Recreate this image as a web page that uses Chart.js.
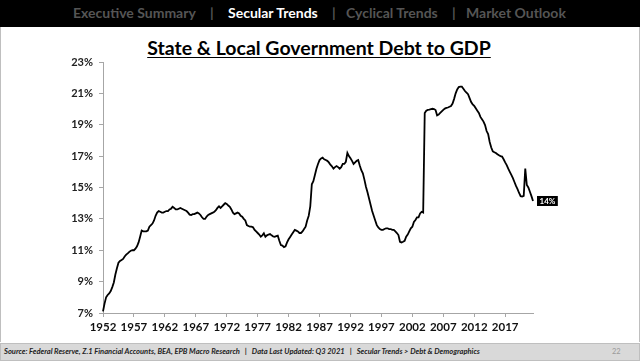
<!DOCTYPE html>
<html>
<head>
<meta charset="utf-8">
<script src="https://cdn.jsdelivr.net/npm/chart.js@4"></script>
<style>
  html, body { margin: 0; padding: 0; width: 640px; height: 361px; overflow: hidden; background: #fff; font-family: Lato, "Open Sans", sans-serif; }
  #header { position: absolute; left: 0; top: 0; width: 640px; height: 27px; background: #000; }
  #header span { position: absolute; top: 4px; font-weight: bold; font-size: 14px; line-height: 18px; color: #555; white-space: nowrap; }
  #header span.active { color: #fff; }
  #frame { position: absolute; left: 0; top: 27px; width: 638px; height: 315px; border-left: 1px solid #bfbfbf; border-right: 1px solid #bfbfbf; }
  #title { position: absolute; left: 0; top: 36px; width: 638px; text-align: center; font-weight: bold; font-size: 19.5px; line-height: 23px; text-decoration: underline; text-underline-offset: 2px; color: #000; }
  #footer { position: absolute; left: 0; top: 343px; width: 638px; height: 16px; background: #d9d9d9; border: 1px solid #bfbfbf; }
  #footer .src { position: absolute; left: 3px; top: 3px; font-size: 7.55px; line-height: 10px; font-weight: bold; font-style: italic; color: #222; white-space: pre; }
  #footer .pg { position: absolute; left: 611px; top: 3px; font-size: 7.5px; line-height: 10px; color: #999; }
  canvas { position: absolute; left: 0; top: 0; }
</style>
</head>
<body>
<div id="header">
  <span style="left:73px">Executive Summary</span>
  <span style="left:210px">|</span>
  <span class="active" style="left:228px">Secular Trends</span>
  <span style="left:332px">|</span>
  <span style="left:346px">Cyclical Trends</span>
  <span style="left:452px">|</span>
  <span style="left:466px">Market Outlook</span>
</div>
<div id="frame"></div>
<div id="title">State &amp; Local Government Debt to GDP</div>
<div id="footer">
  <div class="src">Source: Federal Reserve, Z.1 Financial Accounts, BEA, EPB Macro Research   |   Data Last Updated: Q3 2021   |   Secular Trends &gt; Debt &amp; Demographics</div>
  <div class="pg">22</div>
</div>
<canvas id="c" width="640" height="361"></canvas>
<script>
// ---- data ----
const years = [1952,1953,1954,1955,1956,1957,1958,1959,1960,1961,1962,1963,1964,1965,1966,1967,1968,1969,
  1970,1971,1972,1973,1974,1975,1976,1977,1978,1979,1980,1981,1982,1983,1984,1985,1986,1987,1988,1989,
  1990,1991,1992,1993,1994,1995,1996,1997,1998,1999,2000,2001,2002,2003,2004,2005,2006,2007,2008,2009,
  2010,2011,2012,2013,2014,2015,2016,2017,2018,2019,2020,2021];
const quarters = ['Q1','Q2','Q3','Q4'];
const lastQuarter = 'Q3 2021';
const tickYears = [1952,1957,1962,1967,1972,1977,1982,1987,1992,1997,2002,2007,2012,2017];
const yTicks = [7,9,11,13,15,17,19,21,23];
// debt to GDP (%), quarterly 1952Q1 .. 2021Q3
const debtToGdp = [
  7.1, 7.6, 8.0, 8.15,        // 1952
  8.25, 8.4, 8.65, 8.95,      // 1953
  9.45, 9.85, 10.2, 10.32,    // 1954
  10.38, 10.45, 10.6, 10.72,  // 1955
  10.8, 10.9, 10.97, 11.0,    // 1956
  11.0, 11.1, 11.25, 11.5,    // 1957
  11.86, 12.25, 12.2, 12.2,   // 1958
  12.2, 12.25, 12.5, 12.6,    // 1959
  12.7, 12.9, 13.2, 13.4,     // 1960
  13.5, 13.45, 13.4, 13.4,    // 1961
  13.45, 13.5, 13.5, 13.6,    // 1962
  13.65, 13.77, 13.7, 13.6,   // 1963
  13.6, 13.65, 13.7, 13.65,   // 1964
  13.6, 13.55, 13.5, 13.4,    // 1965
  13.27, 13.25, 13.3, 13.3,   // 1966
  13.35, 13.4, 13.35, 13.25,  // 1967
  13.1, 13.0, 13.0, 13.15,    // 1968
  13.25, 13.3, 13.35, 13.4,   // 1969
  13.46, 13.55, 13.7, 13.8,   // 1970
  13.7, 13.8, 13.9, 14.0,     // 1971
  13.95, 13.85, 13.77, 13.6,  // 1972
  13.4, 13.3, 13.35, 13.4,    // 1973
  13.35, 13.2, 13.14, 13.0,   // 1974
  12.9, 12.6, 12.55, 12.5,    // 1975
  12.5, 12.46, 12.3, 12.2,    // 1976
  12.1, 12.0, 11.86, 11.95,   // 1977
  12.08, 11.86, 11.95, 12.0,  // 1978
  12.03, 11.95, 11.88, 11.86, // 1979
  11.9, 11.93, 11.6, 11.33,   // 1980
  11.3, 11.2, 11.25, 11.5,    // 1981
  11.7, 11.85, 12.0, 12.15,   // 1982
  12.3, 12.25, 12.2, 12.1,    // 1983
  12.1, 12.2, 12.35, 12.5,    // 1984
  12.9, 13.2, 13.8, 15.2,     // 1985
  15.4, 15.8, 16.2, 16.5,     // 1986
  16.75, 16.85, 16.9, 16.8,   // 1987
  16.75, 16.7, 16.6, 16.45,   // 1988
  16.35, 16.2, 16.3, 16.37,   // 1989
  16.3, 16.2, 16.3, 16.5,     // 1990
  16.5, 16.64, 17.2, 17.0,    // 1991
  16.86, 16.7, 16.5, 16.6,    // 1992
  16.7, 16.75, 16.4, 16.1,    // 1993
  15.9, 15.5, 15.05, 14.7,    // 1994
  14.3, 13.9, 13.5, 13.2,     // 1995
  12.9, 12.6, 12.45, 12.35,   // 1996
  12.3, 12.3, 12.35, 12.4,    // 1997
  12.4, 12.35, 12.35, 12.3,   // 1998
  12.3, 12.2, 12.1, 11.97,    // 1999
  11.54, 11.5, 11.54, 11.6,   // 2000
  11.86, 12.0, 12.2, 12.4,    // 2001
  12.5, 12.8, 12.93, 13.1,    // 2002
  13.1, 13.35, 13.45, 13.4,   // 2003
  19.75, 19.9, 19.95, 19.97,  // 2004
  20.0, 20.02, 20.0, 19.94,   // 2005
  19.6, 19.65, 19.75, 19.85,  // 2006
  19.95, 20.03, 20.07, 20.1,  // 2007
  20.15, 20.19, 20.35, 20.65, // 2008
  21.0, 21.25, 21.4, 21.43,   // 2009
  21.43, 21.3, 21.15, 21.05,  // 2010
  20.95, 20.7, 20.45, 20.3,   // 2011
  20.2, 20.05, 19.9, 19.75,   // 2012
  19.5, 19.35, 19.2, 18.98,   // 2013
  18.6, 18.4, 17.9, 17.55,    // 2014
  17.3, 17.25, 17.2, 17.12,   // 2015
  17.05, 17.0, 16.97, 16.8,   // 2016
  16.6, 16.43, 16.2, 16.0,    // 2017
  15.8, 15.6, 15.35, 15.1,    // 2018
  14.9, 14.65, 14.45, 14.42,  // 2019
  14.47, 16.2, 15.16, 15.0,   // 2020
  14.73, 14.45, 14.14         // 2021
];
const endLabel = '14%';

// ---- build table for the library ----
const categories = [];
years.forEach(y => quarters.forEach(q => categories.push(q + ' ' + y)));
const lastIdx = categories.indexOf(lastQuarter);
const labels = categories.slice(0, lastIdx + 1);
const tickLabelSet = new Set(tickYears.map(y => 'Q1 ' + y));

const AXIS = '#a6a6a6';
const FONT = 'Lato, "Open Sans", sans-serif';

const endLabelPlugin = {
  id: 'endLabel',
  afterDatasetsDraw(chart) {
    const meta = chart.getDatasetMeta(0);
    const pt = meta.data[meta.data.length - 1];
    const ctx = chart.ctx;
    ctx.save();
    ctx.font = 'bold 8px ' + FONT;
    const w = ctx.measureText(endLabel).width + 5;
    const h = 10;
    const x0 = pt.x + 4, y0 = pt.y - h / 2;
    ctx.fillStyle = '#000';
    ctx.fillRect(x0, y0, w, h);
    ctx.fillStyle = '#fff';
    ctx.textAlign = 'center';
    ctx.textBaseline = 'middle';
    ctx.fillText(endLabel, x0 + w / 2, y0 + h / 2 + 0.5);
    ctx.restore();
  }
};

new Chart(document.getElementById('c'), {
  type: 'line',
  data: {
    labels: labels,
    datasets: [{
      data: debtToGdp,
      borderColor: '#000',
      borderWidth: 1.8,
      pointRadius: 0,
      tension: 0,
      fill: false
    }]
  },
  options: {
    responsive: false,
    animation: false,
    events: [],
    layout: { padding: { left: 0, top: 62, right: 107, bottom: 0 } },
    plugins: { legend: { display: false }, tooltip: { enabled: false } },
    scales: {
      x: {
        type: 'category',
        offset: false,
        afterBuildTicks(scale) {
          scale.ticks = scale.ticks.filter(t => tickLabelSet.has(labels[t.value]));
        },
        afterFit(scale) { scale.height = 48; },
        grid: { display: true, drawOnChartArea: false, drawTicks: true, tickLength: 4, color: AXIS, offset: false },
        border: { display: true, color: AXIS, width: 1 },
        ticks: {
          autoSkip: false,
          maxRotation: 0,
          minRotation: 0,
          padding: 3,
          color: '#111',
          font: { family: FONT, size: 11.5, weight: 'bold' },
          callback(value) { return labels[value].slice(3); }
        }
      },
      y: {
        min: yTicks[0],
        max: yTicks[yTicks.length - 1],
        afterBuildTicks(scale) { scale.ticks = yTicks.map(v => ({ value: v })); },
        afterFit(scale) { scale.width = 103; },
        grid: { display: true, drawOnChartArea: false, drawTicks: true, tickLength: 4, color: AXIS },
        border: { display: true, color: AXIS, width: 1 },
        ticks: {
          padding: 6,
          color: '#222',
          font: { family: FONT, size: 11, weight: 'bold' },
          callback(value) { return value + '%'; }
        }
      }
    }
  },
  plugins: [endLabelPlugin]
});
</script>
</body>
</html>
